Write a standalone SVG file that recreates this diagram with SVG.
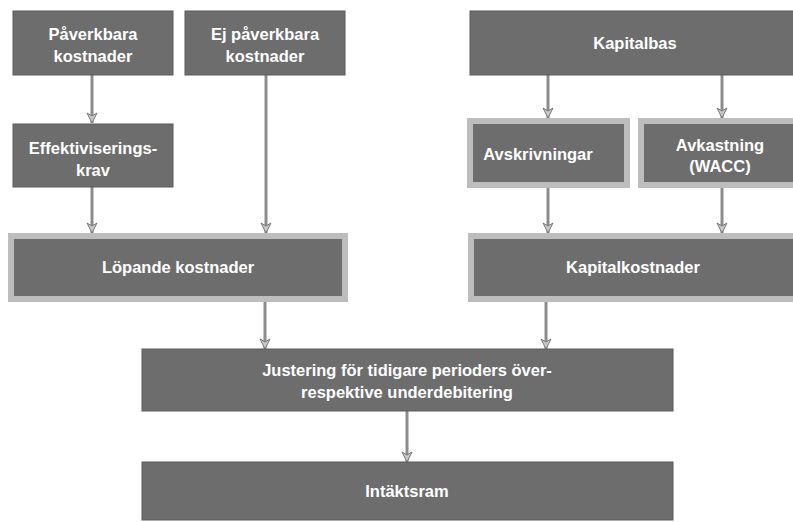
<svg xmlns="http://www.w3.org/2000/svg" width="793" height="522" viewBox="0 0 793 522">
<defs>
<style>
.box{fill:#6d6d6d;stroke:#5a5a5a;stroke-width:1}
.bbox{fill:#6d6d6d;stroke:#bdbdbd;stroke-width:6}
.t{font-family:"Liberation Sans",Arial,sans-serif;font-size:16.5px;fill:#ffffff;text-anchor:middle;font-weight:bold}
.c line{stroke:#8c8c8c;stroke-width:3}
</style>
<marker id="ah" viewBox="0 0 12 12" refX="11" refY="6" markerWidth="12" markerHeight="12" markerUnits="userSpaceOnUse" orient="auto">
<path d="M1,1 L11,6 L1,11 L4,6 Z" fill="#c8c8c8" stroke="#777777" stroke-width="1"/>
</marker>
</defs>
<rect width="793" height="522" fill="#ffffff"/>
<g class="c">
<line x1="92" y1="75" x2="92" y2="123" marker-end="url(#ah)"/>
<line x1="92" y1="187" x2="92" y2="233" marker-end="url(#ah)"/>
<line x1="266" y1="75" x2="266" y2="233" marker-end="url(#ah)"/>
<line x1="548" y1="75" x2="548" y2="118" marker-end="url(#ah)"/>
<line x1="722" y1="75" x2="722" y2="118" marker-end="url(#ah)"/>
<line x1="548" y1="188" x2="548" y2="233" marker-end="url(#ah)"/>
<line x1="722" y1="188" x2="722" y2="233" marker-end="url(#ah)"/>
<line x1="265" y1="302" x2="265" y2="349" marker-end="url(#ah)"/>
<line x1="546" y1="302" x2="546" y2="349" marker-end="url(#ah)"/>
<line x1="407" y1="411" x2="407" y2="462" marker-end="url(#ah)"/>
</g>
<g id="paverkbara">
<rect class="box" x="13" y="11" width="160" height="64"/>
<text class="t" x="93" y="40">Påverkbara</text>
<text class="t" x="93" y="62">kostnader</text>
</g>
<g id="ej-paverkbara">
<rect class="box" x="185" y="11" width="160" height="64"/>
<text class="t" x="265" y="40">Ej påverkbara</text>
<text class="t" x="265" y="62">kostnader</text>
</g>
<g id="effektiviseringskrav">
<rect class="box" x="13" y="124" width="160" height="63"/>
<text class="t" x="93" y="154">Effektiviserings-</text>
<text class="t" x="93" y="176">krav</text>
</g>
<g id="kapitalbas">
<rect class="box" x="470" y="11" width="330" height="64"/>
<text class="t" x="635" y="49">Kapitalbas</text>
</g>
<g id="avskrivningar">
<rect class="bbox" x="470" y="121" width="157" height="64"/>
<text class="t" x="538" y="160">Avskrivningar</text>
</g>
<g id="avkastning">
<rect class="bbox" x="641" y="121" width="160" height="64"/>
<text class="t" x="720" y="151">Avkastning</text>
<text class="t" x="720" y="172">(WACC)</text>
</g>
<g id="lopande">
<rect class="bbox" x="11" y="236" width="334" height="63"/>
<text class="t" x="178" y="273">Löpande kostnader</text>
</g>
<g id="kapitalkostnader">
<rect class="bbox" x="471" y="236" width="330" height="63"/>
<text class="t" x="633" y="273">Kapitalkostnader</text>
</g>
<g id="justering">
<rect class="box" x="142" y="349" width="531" height="62"/>
<text class="t" x="407" y="376">Justering för tidigare perioders över-</text>
<text class="t" x="407" y="398">respektive underdebitering</text>
</g>
<g id="intaktsram">
<rect class="box" x="142" y="462" width="531" height="58"/>
<text class="t" x="407" y="497">Intäktsram</text>
</g>
</svg>
